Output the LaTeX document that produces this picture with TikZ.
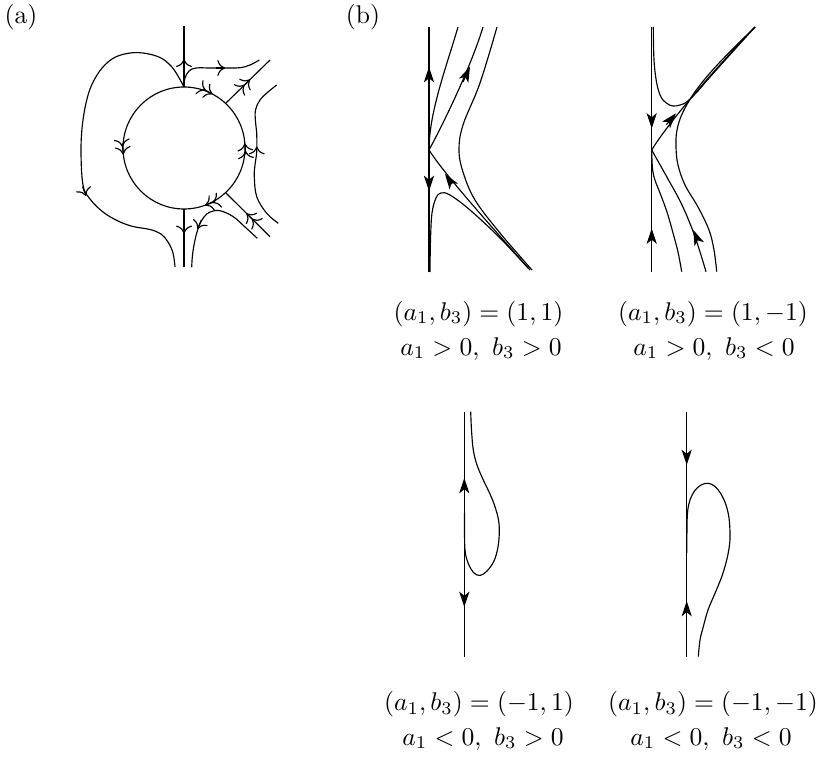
\documentclass[tikz,border=0pt]{standalone}
\usetikzlibrary{arrows.meta}
\begin{document}
\begin{tikzpicture}[x=0.3906pt,y=-0.3906pt, line width=0.45pt,
  arrB/.style={-{Stealth[length=6pt,width=4pt,inset=1.6pt]}},
  arrA/.style={-{To[length=3pt,width=6.2pt]}},
  arrAA/.style={-{To[length=3pt,width=6.2pt]To[length=3pt,width=6.2pt]}},
  lbl/.style={anchor=base, inner sep=0pt},
  sm/.style={smooth, tension=0.6}]
\useasboundingbox (0,0) rectangle (822,762);

% ---------- panel labels
\node[lbl] (pa) at (21,23.6) {(a)};
\node[lbl] (pb) at (363,23.6) {(b)};

% ================= panel (a)
\coordinate (O) at (184,148);
\coordinate (Etop) at (184,87);
\coordinate (Ebot) at (184,209);
\coordinate (Eur) at (225.6,103.4);
\coordinate (Elr) at (225.6,192.6);
\draw (O) circle[radius=61];
\draw (184,26) -- (Etop);
\draw (Ebot) -- (184,267);
\draw[arrA] (184,69) -- (184,59.3);
\draw[arrA] (184,224) -- (184,233.3);
% top-right curve
\draw plot[sm] coordinates {(184,87) (185,78) (189,71) (196,68) (210,68) (225,68) (240,67.7) (250,65) (259.3,60)};
\draw[arrA] (216,68) -- (225,68);
% diagonals
\draw (Eur) -- (270,60);
\draw (Elr) -- (270,236.7);
\draw[arrAA] (242.2,87.2) -- (250,79.5);
\draw[arrAA] (254.3,221.2) -- (246.5,213.4);
% circle arrows
\draw[arrAA] (203,89) -- (212.6,94.1);
\draw[arrAA] (122.2,143.4) -- (123.3,154.4);
\draw[arrAA] (245.7,154.3) -- (244.8,143.3);
\draw[arrAA] (215.3,201.5) -- (205,205.3);
% lower curve
\draw plot[sm] coordinates {(257.3,238.3) (245,227) (233.3,216.7) (220,210.7) (210,212) (204,217) (199,226) (195,240) (192.5,255) (191.7,267.3)};
\draw[arrA] (201.5,219.8) -- (197.5,229);
% right curve
\draw plot[sm] coordinates {(276.7,85) (268,92) (260,100) (255.5,110) (255.5,122) (256.7,133.3) (256.7,151.7) (255,165) (254.3,176.7) (256.7,196.7) (266.7,213.3) (278.3,223.3)};
\draw[arrA] (256.8,156) -- (256.8,146.7);
% big left curve
\draw plot[sm] coordinates {(184,87) (178,76) (171,66) (160,57.5) (143,53) (127,53.5) (112,59) (99,72) (89,92) (83,120) (81,150) (83,185) (90,199) (103,212) (118,221) (133,226.5) (150,229.5) (161,234) (168,242) (173,253) (175,267)};
\draw[arrA] (82.5,186.6) -- (86,196);

% ================= panel (b) top-left
\coordinate (E1) at (429,150);
\draw (429,27) -- (429,272);
\draw[arrB] (429,82) -- (429,67);
\draw[arrB] (429,176) -- (429,191);
\draw (E1) .. controls (429,112) and (447,65) .. (458,27);
\draw (E1) .. controls (440,130) and (470,70) .. (483,27);
\draw[arrB] (463,82) -- (470,66.7);
\draw plot[sm] coordinates {(497,27) (480,83) (463,125) (459,150) (463,172) (475,200) (500,233) (532,270)};
\draw (E1) .. controls (445,175) and (490,225) .. (530,270);
\draw[arrB] (452,184) -- (445,174);
\draw plot[sm] coordinates {(430,272) (430.5,240) (432,213) (436,198) (441,193) (450,195) (470,210) (500,238) (528,268)};

% ================= panel (b) top-right
\coordinate (E2) at (651.7,150);
\draw (651.7,27) -- (651.7,272);
\draw[arrB] (651.7,114) -- (651.7,128.5);
\draw[arrB] (651.7,243) -- (651.7,228.5);
\draw plot[sm] coordinates {(653.3,27) (654,60) (656.7,83) (661,97) (667,103.5) (673,106) (680,105) (687,101.7) (698,91) (710,77) (755,27)};
\draw (E2) .. controls (665,128) and (700,85) .. (755,27);
\draw[arrB] (666.3,124.7) -- (676,113.3);
\draw plot[sm] coordinates {(755,27) (720,62) (697,89) (683,112) (677,130) (676,147) (678,165) (685,185) (698,207) (709,230) (714,250) (716.7,271.7)};
\draw plot[sm] coordinates {(651.7,150) (659,163) (666.7,176.7) (682,205) (695,236.7) (706,271.7)};
\draw[arrB] (697.5,240) -- (693.3,230);
\draw plot[sm] coordinates {(651.7,150) (652.2,165) (653.5,175) (656,183) (660,193) (667,212) (673,233) (678,252) (681.7,271.7)};

% ================= panel (b) bottom-left
\draw (464.3,411.7) -- (464.3,656.7);
\draw[arrB] (464.3,493) -- (464.3,478);
\draw[arrB] (464.3,592) -- (464.3,607);
\draw plot[sm] coordinates {(470.7,411.7) (471.5,430) (473.3,450) (477,465) (483.3,480) (490,494) (495,506.7) (498.5,520) (499.3,532) (498,547) (494,561) (487,571) (480,575.5) (473.5,572.5) (468.5,564) (465.3,553) (464.6,540) (464.5,513)};

% ================= panel (b) bottom-right
\draw (686.7,411.7) -- (686.7,656.7);
\draw[arrB] (686.7,451) -- (686.7,465);
\draw[arrB] (686.7,616) -- (686.7,601);
\draw plot[sm] coordinates {(698.3,656.7) (700,640) (703.3,626.7) (708,610) (715,593.3) (722,576) (726.7,560) (729.5,545) (730,533.3) (729,518) (726,505) (721,494) (715,486.5) (708.3,483.3) (701,485) (694.5,491) (690,500) (687.8,510) (687,525) (686.9,553)};

% ================= captions
\node[lbl] (l1a) at (478.5,320) {$(a_1,b_3)=(1,1)$};
\node[lbl] (l1b) at (481,355) {$a_1>0,\ b_3>0$};
\node[lbl] (l2a) at (713,320) {$(a_1,b_3)=(1,-1)$};
\node[lbl] (l2b) at (714,355) {$a_1>0,\ b_3<0$};
\node[lbl] (l3a) at (479,710.5) {$(a_1,b_3)=(-1,1)$};
\node[lbl] (l3b) at (483,745) {$a_1<0,\ b_3>0$};
\node[lbl] (l4a) at (713,710.5) {$(a_1,b_3)=(-1,-1)$};
\node[lbl] (l4b) at (711,745) {$a_1<0,\ b_3<0$};
\end{tikzpicture}
\end{document}
